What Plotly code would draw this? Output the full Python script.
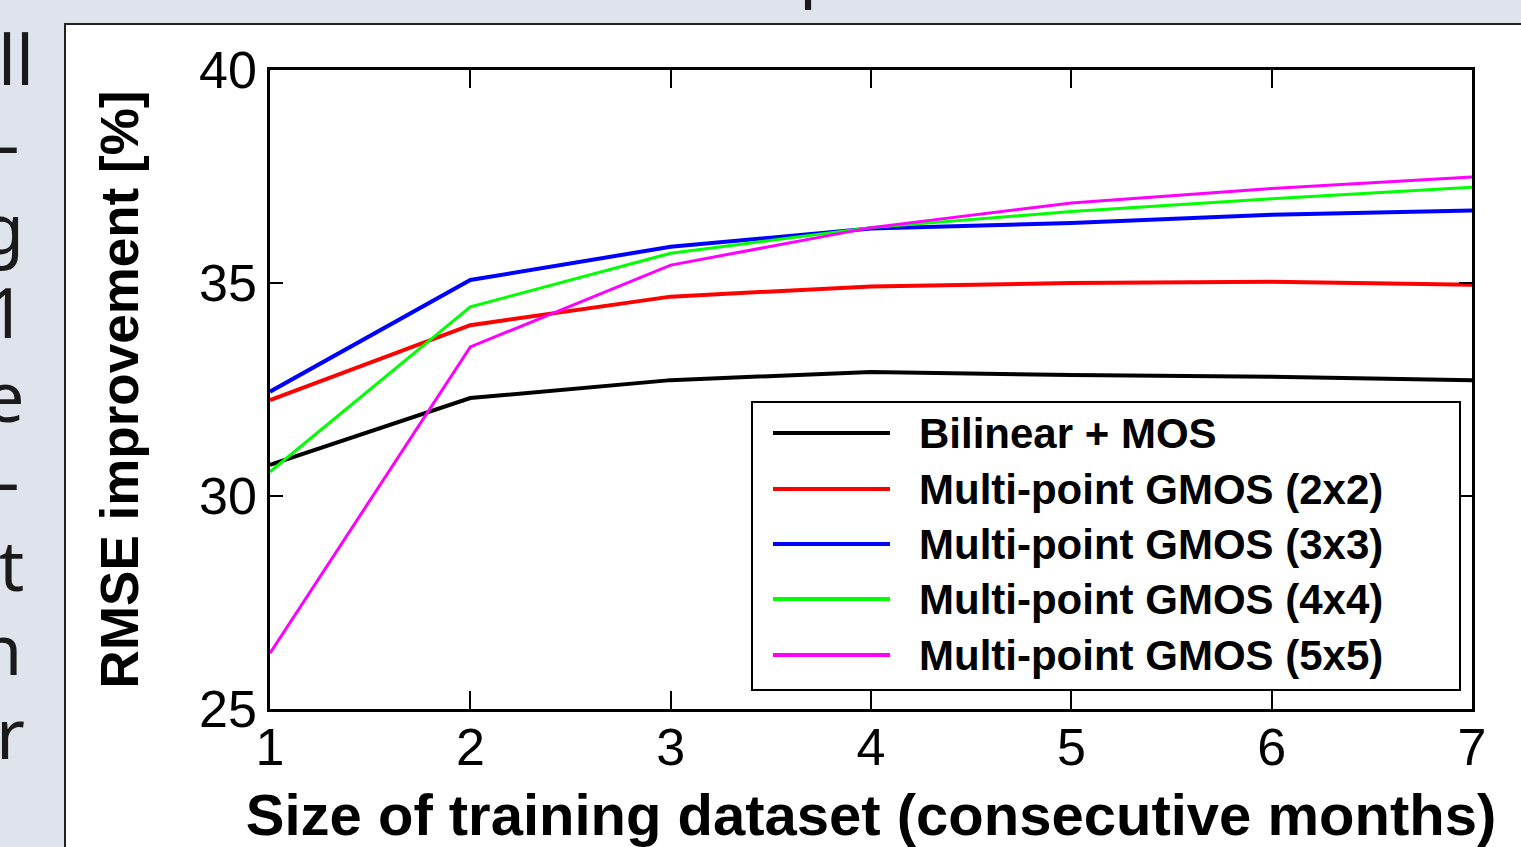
import plotly.graph_objects as go

# ---------------- data ----------------
months = [1, 2, 3, 4, 5, 6, 7]
series_names = [
    "Bilinear + MOS",
    "Multi-point GMOS (2x2)",
    "Multi-point GMOS (3x3)",
    "Multi-point GMOS (4x4)",
    "Multi-point GMOS (5x5)",
]
bilinear_mos = [30.73, 32.30, 32.72, 32.91, 32.84, 32.80, 32.72]
gmos_2x2 = [32.25, 34.01, 34.68, 34.92, 35.00, 35.03, 34.96]
gmos_3x3 = [32.45, 35.07, 35.85, 36.28, 36.41, 36.60, 36.70]
gmos_4x4 = [30.57, 34.44, 35.70, 36.30, 36.68, 36.98, 37.25]
gmos_5x5 = [26.31, 33.50, 35.42, 36.30, 36.88, 37.22, 37.49]
y_ticks = [25, 30, 35, 40]
x_ticks = [1, 2, 3, 4, 5, 6, 7]
x_title = "Size of training dataset (consecutive months)"
y_title = "RMSE improvement [%]"
side_fragments = ["ll", "-", "g", "1", "e", "-", "t", "n", "r"]
title_fragment = "p"

# ---------------- styles ----------------
colors = ["#000000", "#ff0000", "#0000ff", "#00ff00", "#ff00ff"]
widths = [4, 4, 4, 3, 3]
all_series = [bilinear_mos, gmos_2x2, gmos_3x3, gmos_4x4, gmos_5x5]

W, H = 1521, 847
ML, MR, MT, MB = 270, 49, 70, 138
PW, PH = W - ML - MR, H - MT - MB


def fx(px):
    return (px - ML) / PW


def fy(py):
    return (H - MB - py) / PH


fig = go.Figure()
for name, vals, c, w in zip(series_names, all_series, colors, widths):
    fig.add_trace(go.Scatter(x=months, y=vals, mode="lines", name=name,
                             line=dict(color=c, width=w), showlegend=False))

shapes = []
annotations = []

# white slide frame holding the chart picture
shapes.append(dict(type="rect", xref="paper", yref="paper", layer="below",
                   x0=fx(65), x1=fx(1540), y0=fy(860), y1=fy(24),
                   fillcolor="white", line=dict(color="#222222", width=2)))

# custom legend
shapes.append(dict(type="rect", xref="paper", yref="paper", layer="above",
                   x0=fx(752), x1=fx(1460), y0=fy(690), y1=fy(402),
                   fillcolor="white", line=dict(color="black", width=2)))
row_y = [433, 489, 544, 599, 655]
for name, c, w, ry in zip(series_names, colors, widths, row_y):
    shapes.append(dict(type="line", xref="paper", yref="paper", layer="above",
                       x0=fx(773), x1=fx(890), y0=fy(ry), y1=fy(ry),
                       line=dict(color=c, width=4)))
    annotations.append(dict(text=name, xref="paper", yref="paper",
                            x=fx(917), y=fy(ry), xanchor="left", yanchor="middle",
                            showarrow=False,
                            font=dict(family="Liberation Sans, Arial", size=42,
                                      color="black", weight="bold")))

# cropped slide text on the left edge
right_edges = [32, 18, 22, 24, 22, 18, 22, 20, 23]
for i, (t, rx) in enumerate(zip(side_fragments, right_edges)):
    baseline = 83 + 84.25 * i
    annotations.append(dict(text=t, xref="paper", yref="paper",
                            x=fx(rx + 4), y=fy(baseline - 25),
                            xanchor="right", yanchor="middle", showarrow=False,
                            font=dict(family="Noto Sans", size=70, color="#1a1a1a")))

# cropped slide title descender at top
annotations.append(dict(text=title_fragment, xref="paper", yref="paper",
                        x=fx(797), y=fy(-9 - 25), xanchor="left", yanchor="middle",
                        showarrow=False,
                        font=dict(family="Noto Sans", size=70, color="#1a1a1a")))

axis_common = dict(showline=True, linecolor="black", linewidth=2.5, mirror="ticks",
                   ticks="inside", tickcolor="black", tickwidth=2,
                   showgrid=False, zeroline=False, automargin=False,
                   tickfont=dict(family="Liberation Sans, Arial", size=52, color="black"))

fig.update_layout(
    width=W, height=H,
    margin=dict(l=ML, r=MR, t=MT, b=MB, pad=0, autoexpand=False),
    paper_bgcolor="#dfe3ec",
    plot_bgcolor="white",
    xaxis=dict(range=[1, 7], tickvals=x_ticks, ticklen=18, ticklabelstandoff=-9,
               title=dict(text=x_title, standoff=43,
                          font=dict(family="Liberation Sans, Arial", size=58,
                                    color="black", weight="bold")),
               **axis_common),
    yaxis=dict(range=[25, 40], tickvals=y_ticks, ticklen=13, ticklabelstandoff=0,
               title=dict(text=y_title, standoff=44,
                          font=dict(family="Liberation Sans, Arial", size=53,
                                    color="black", weight="bold")),
               **axis_common),
    shapes=shapes,
    annotations=annotations,
    showlegend=False,
)

fig.write_html("out.html")
